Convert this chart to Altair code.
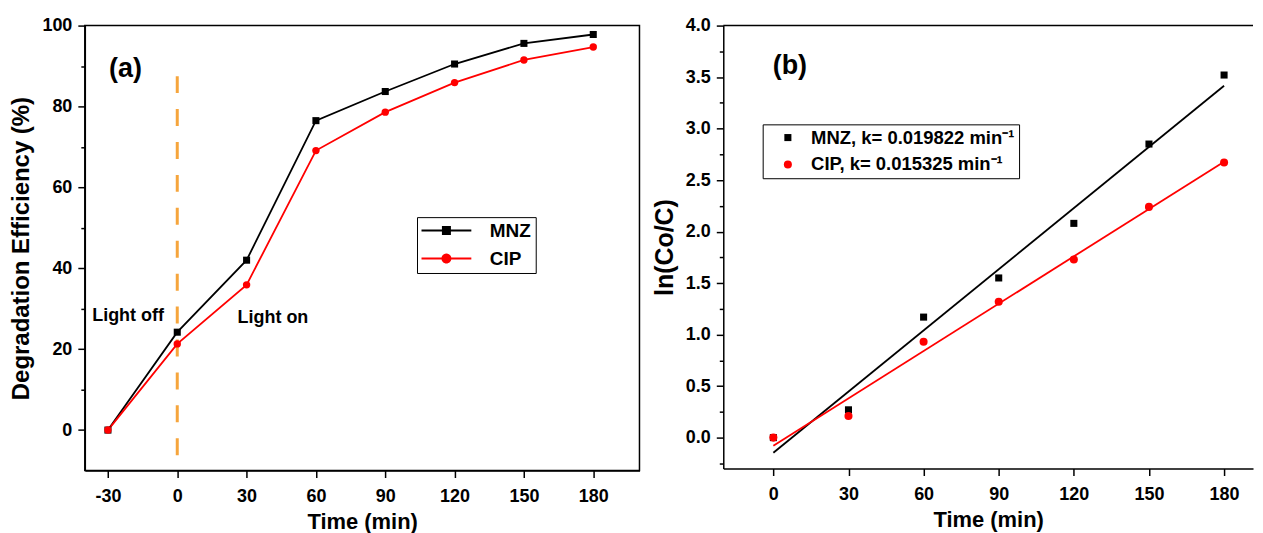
import altair as alt
import pandas as pd

FONT = "Liberation Sans"

# ---------------- data ----------------
time_a = [-30, 0, 30, 60, 90, 120, 150, 180]
mnz_eff = [0, 24.2, 42.0, 76.5, 83.7, 90.5, 95.6, 97.8]
cip_eff = [0, 21.3, 35.9, 69.1, 78.6, 85.9, 91.5, 94.7]

time_b = [0, 30, 60, 90, 120, 150, 180]
mnz_ln = [0, 0.27, 1.17, 1.55, 2.08, 2.85, 3.52]
cip_ln = [0, 0.21, 0.93, 1.32, 1.73, 2.24, 2.67]

series = ["MNZ", "CIP"]
colors = ["#000000", "#FF0000"]
k_values = ["0.019822", "0.015325"]

light_switch_time = [0]
light_line_range = [-7.4, 87.5]

x_ticks_a = [-30, 0, 30, 60, 90, 120, 150, 180]
y_ticks_a = [0, 10, 20, 30, 40, 50, 60, 70, 80, 90, 100]
x_ticks_b = [0, 30, 60, 90, 120, 150, 180]
y_ticks_b = [-0.25, 0, 0.25, 0.5, 0.75, 1.0, 1.25, 1.5, 1.75, 2.0, 2.25,
             2.5, 2.75, 3.0, 3.25, 3.5, 3.75, 4.0]

# ---------------- tables ----------------
df_a = pd.DataFrame({
    "Time": time_a + time_a,
    "Eff": mnz_eff + cip_eff,
    "Sample": [series[0]] * len(time_a) + [series[1]] * len(time_a),
})
df_b = pd.DataFrame({
    "Time": time_b + time_b,
    "lnC": mnz_ln + cip_ln,
    "Sample": [series[0]] * len(time_b) + [series[1]] * len(time_b),
})
df_rule = pd.DataFrame({"Time": light_switch_time,
                        "Eff": [light_line_range[1]],
                        "Eff2": [light_line_range[0]]})
df_text_a = pd.DataFrame({"Time": [-36.8, 26.1], "Eff": [28.2, 27.8],
                          "label": ["Light off", "Light on"]})
df_tag_a = pd.DataFrame({"Time": [-22.4], "Eff": [89.2], "label": ["(a)"]})
df_tag_b = pd.DataFrame({"Time": [6.6], "lnC": [3.61], "label": ["(b)"]})
df_one = pd.DataFrame({"k": [0]})

# ---------------- panel (a) ----------------
WA, HA = 556, 446
ax_xa = alt.Axis(values=x_ticks_a, title="Time (min)", tickSize=7,
                 labelExpr="toString(datum.value)")
ax_ya = alt.Axis(values=y_ticks_a, title="Degradation Efficiency (%)", titleFontSize=24,
                 labelExpr="datum.value % 20 == 0 ? datum.label : ''",
                 tickSize={"condition": {"test": "datum.value % 20 == 0", "value": 7}, "value": 4})
sx_a = alt.Scale(domain=[-40, 200], nice=False, zero=False)
sy_a = alt.Scale(domain=[-10, 100], nice=False, zero=False)
col_scale = alt.Scale(domain=series, range=colors)

xa = alt.X("Time:Q", scale=sx_a, axis=ax_xa)
ya = alt.Y("Eff:Q", scale=sy_a, axis=ax_ya)

path_sq = "M-2,-0.22H9.1V0.22H-2Z M2.55,-1H4.55V1H2.55Z"
path_ci = "M-2,-0.22H9.1V0.22H-2Z M2.44,0A1.11,1.11 0 1,1 4.66,0A1.11,1.11 0 1,1 2.44,0Z"
leg_a = alt.Legend(title=None, orient="none", legendX=333, legendY=192,
                   strokeColor="black", padding=4, symbolSize=81,
                   symbolStrokeWidth=0, symbolOpacity=1, labelOffset=50,
                   labelFontSize=19, labelFont=FONT, labelFontWeight="bold",
                   labelColor="black", rowPadding=8)
col_a = alt.Color("Sample:N", scale=col_scale, legend=leg_a)

legend_a = alt.Chart(df_a).transform_filter("false").mark_point(filled=True).encode(
    x=xa, y=ya, color=col_a,
    shape=alt.Shape("Sample:N", scale=alt.Scale(domain=series, range=[path_sq, path_ci]),
                    legend=leg_a))
lines_a = alt.Chart(df_a).mark_line(strokeWidth=1.8).encode(x=xa, y=ya, color=col_a)
pts_mnz = alt.Chart(df_a).transform_filter(alt.datum.Sample == series[0]).mark_point(
    shape="square", filled=True, size=50, opacity=1).encode(x=xa, y=ya, color=col_a)
pts_cip = alt.Chart(df_a).transform_filter(alt.datum.Sample == series[1]).mark_point(
    shape="circle", filled=True, size=55, opacity=1).encode(x=xa, y=ya, color=col_a)

rule_a = alt.Chart(df_rule).mark_rule(color="#F6A53C", strokeWidth=3,
                                      strokeDash=[17, 16]).encode(
    x=alt.X("Time:Q", scale=sx_a, axis=ax_xa),
    y=alt.Y("Eff:Q", scale=sy_a, axis=ax_ya), y2="Eff2:Q")

text_a = alt.Chart(df_text_a).mark_text(align="left", baseline="middle", fontSize=18,
                                        fontWeight="bold", font=FONT, color="black").encode(
    x=xa, y=ya, text="label:N")
tag_a = alt.Chart(df_tag_a).mark_text(align="center", baseline="middle", fontSize=27,
                                      fontWeight="bold", font=FONT, color="black").encode(
    x=xa, y=ya, text="label:N")

panel_a = alt.layer(legend_a, rule_a, lines_a, pts_mnz, pts_cip, text_a, tag_a).properties(
    width=WA, height=HA, view=alt.ViewBackground(stroke="black", strokeWidth=1.5))

# ---------------- panel (b) ----------------
WB, HB = 531, 444
ax_xb = alt.Axis(values=x_ticks_b, title="Time (min)", tickSize=7)
ax_yb = alt.Axis(values=y_ticks_b, title="ln(Co/C)", format=".1f", titleFontSize=25,
                 labelExpr="abs(datum.value*2 - round(datum.value*2)) < 0.001 ? datum.label : ''",
                 tickSize={"condition": {"test": "abs(datum.value*2 - round(datum.value*2)) < 0.001",
                                         "value": 7}, "value": 4})
sx_b = alt.Scale(domain=[-20, 191.55], nice=False, zero=False)
sy_b = alt.Scale(domain=[-0.3, 4.0], nice=False, zero=False)
xb = alt.X("Time:Q", scale=sx_b, axis=ax_xb)
yb = alt.Y("lnC:Q", scale=sy_b, axis=ax_yb)

labels_b = {s: f"{s}, k= {k} min\u207b\u00b9" for s, k in zip(series, k_values)}
label_expr_b = (f"datum.label == '{series[0]}' ? '{labels_b[series[0]]}' : "
                f"'{labels_b[series[1]]}'")
leg_b = alt.Legend(title=None, orient="none", legendX=39.5, legendY=99,
                   strokeColor="black", padding=4, symbolSize=81, symbolOffset=12,
                   symbolStrokeWidth=0, symbolOpacity=1, labelOffset=14,
                   labelFontSize=18.5, labelFont=FONT, labelFontWeight="bold",
                   labelColor="black", rowPadding=8, labelExpr=label_expr_b,
                   labelLimit=400)
col_b = alt.Color("Sample:N", scale=col_scale, legend=leg_b)

pts_b = alt.Chart(df_b).mark_point(filled=True, opacity=1).encode(
    x=xb, y=yb, color=col_b,
    shape=alt.Shape("Sample:N", scale=alt.Scale(domain=series, range=["square", "circle"]),
                    legend=leg_b),
    size=alt.Size("Sample:N", scale=alt.Scale(domain=series, range=[50, 65]), legend=None))
fit_b = alt.Chart(df_b).transform_regression("Time", "lnC", groupby=["Sample"]).mark_line(
    strokeWidth=1.8).encode(x=xb, y=yb, color=col_b)
top_b = alt.Chart(df_one).mark_rule(color="black", strokeWidth=1.5).encode(
    x=alt.value(0), x2=alt.value(WB), y=alt.value(0))
tag_b = alt.Chart(df_tag_b).mark_text(align="center", baseline="middle", fontSize=27,
                                      fontWeight="bold", font=FONT, color="black").encode(
    x=xb, y=yb, text="label:N")

panel_b = alt.layer(pts_b, fit_b, top_b, tag_b).properties(width=WB, height=HB)

chart = alt.hconcat(panel_a, panel_b, spacing=11).resolve_scale(
    color="independent", shape="independent", size="independent"
).resolve_legend(
    color="independent", shape="independent", size="independent"
).properties(
    padding={"left": 1, "top": 7, "right": 0, "bottom": 0}
).configure_view(stroke="transparent").configure_axis(
    labelFont=FONT, labelFontSize=18, labelFontWeight="bold", labelColor="black",
    titleFont=FONT, titleFontSize=22, titleFontWeight="bold", titleColor="black",
    domainColor="black", domainWidth=1.5, tickColor="black", tickWidth=1.5,
    grid=False, labelPadding=6, labelFlush=False, labelOverlap=False, titlePadding=8,
).configure_axisX(labelPadding=10, titlePadding=6)

chart.save("out.html", embed_options={"renderer": "svg", "actions": False})
